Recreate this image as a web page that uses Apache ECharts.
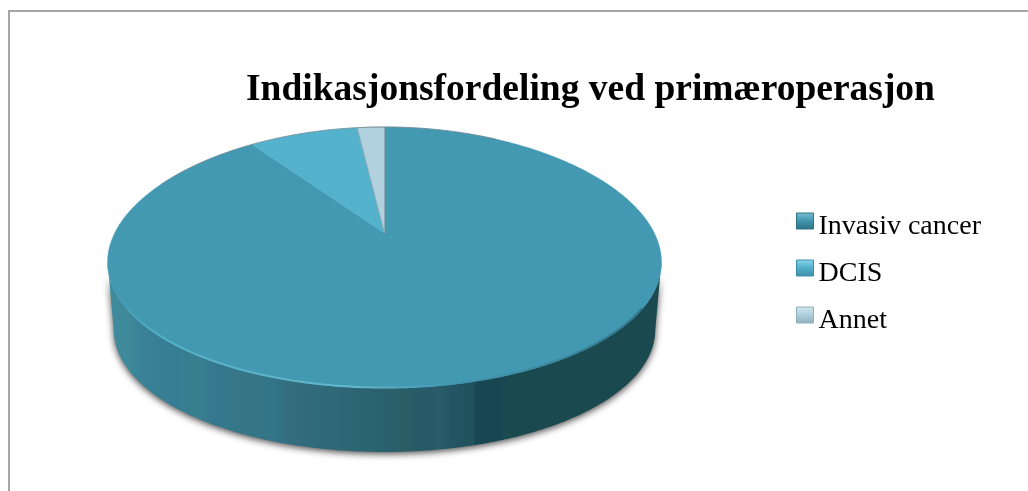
<!DOCTYPE html>
<html>
<head>
<meta charset="utf-8">
<style>html,body{margin:0;padding:0;background:#fff}#chart{width:1028px;height:491px}</style>
<script src="https://cdn.jsdelivr.net/npm/echarts@6/dist/echarts.min.js"></script>
</head>
<body>
<div id="chart"></div>
<script>
const chartTitle = 'Indikasjonsfordeling ved primæroperasjon';
const categories = ['Invasiv cancer', 'DCIS', 'Annet'];
const values = [90.5, 7.6, 1.9];
const sliceColors = ['#4398b2', '#54b2cc', '#b1d1df'];
const legendTops = ['#7fc0d2', '#8ad8ee', '#d5e8ef'];
const legendBottoms = ['#2f7288', '#3f8ea8', '#8fb0be'];

// Tilted-disc projection: a unit circle is taken through a perspective map
// so that the pie's hub sits above the middle of the visible ellipse.
// `sag` lets the flanks of the disc hang slightly lower, as a rendered bevel does.
const hub = { x: 384.5, y: 233 };
const persp = -0.1877, scaleY = 125.9, scaleX = 272, sag = 5;
const depth = 67.4, baseScale = 0.978;

function project(theta, scale, dropY) {
  const u = Math.sin(theta), v = -Math.cos(theta);
  const w = 1 + persp * v;
  return [
    hub.x + scale * scaleX * u / w,
    hub.y + dropY + scale * scaleY * v / w + sag * u * u
  ];
}
function arc(a0, a1, scale, dropY) {
  const n = Math.max(2, Math.ceil(Math.abs(a1 - a0) / 0.01));
  const pts = [];
  for (let i = 0; i <= n; i++) pts.push(project(a0 + (a1 - a0) * i / n, scale, dropY));
  return pts;
}

const total = values.reduce((a, b) => a + b, 0);
const edgeAngle = Math.acos(persp);   // where the ellipse is at its widest

// Banded shading of the rim, from the lit left side to the dark right side.
const rimStops = [
  [0.00, '#3f8c9c'], [0.04, '#3d8899'], [0.07, '#388096'], [0.13, '#367d94'],
  [0.16, '#3a7f8f'], [0.19, '#35798f'], [0.26, '#367585'], [0.30, '#327489'],
  [0.34, '#356b7c'], [0.38, '#2f6a7a'], [0.44, '#2e6573'], [0.50, '#2a616e'],
  [0.53, '#2a5f68'], [0.57, '#265a67'], [0.60, '#295d69'], [0.62, '#235564'],
  [0.66, '#20515d'], [0.665, '#184653'], [0.71, '#184653'], [0.715, '#1a4950'],
  [1.00, '#1a4a50']
];

function renderRim() {
  const top = arc(edgeAngle, 2 * Math.PI - edgeAngle, 1, 0);
  const base = arc(2 * Math.PI - edgeAngle, edgeAngle, baseScale, depth);
  return {
    type: 'polygon',
    shape: { points: top.concat(base) },
    style: {
      fill: new echarts.graphic.LinearGradient(0, 0, 1, 0,
        rimStops.map(s => ({ offset: s[0], color: s[1] }))),
      shadowBlur: 7, shadowColor: 'rgba(0,0,0,0.7)', shadowOffsetY: 2
    }
  };
}

// Lit bevel along the near edge of the top face.
function renderBevel() {
  const margin = edgeAngle * 0.2;
  return {
    type: 'polyline',
    shape: { points: arc(edgeAngle + margin, 2 * Math.PI - edgeAngle - margin, 0.997, 0) },
    style: {
      fill: 'none',
      lineWidth: 2,
      stroke: new echarts.graphic.LinearGradient(0, 0, 1, 0, [
        { offset: 0, color: '#4a9fb6' }, { offset: 0.08, color: '#55b2c6' },
        { offset: 0.45, color: '#62b6ca' }, { offset: 0.62, color: '#4398b2' },
        { offset: 1, color: '#34788e' }
      ])
    }
  };
}

function renderSlice(index) {
  return function (params, api) {
    const before = values.slice(0, index).reduce((a, b) => a + b, 0);
    const a0 = before / total * 2 * Math.PI;
    const a1 = (before + api.value(0)) / total * 2 * Math.PI;
    const isLast = index === values.length - 1;
    const face = {
      type: 'polygon',
      shape: { points: [[hub.x, hub.y]].concat(arc(a0, a1, 1, 0)) },
      style: {
        fill: sliceColors[index],
        stroke: isLast ? '#8fa3ad' : sliceColors[index],
        lineWidth: isLast ? 0.8 : 0.5
      }
    };
    const children = index === 0 ? [renderRim(), face, renderBevel()] : [face];
    if (isLast) {
      // Thin grey outline along the far edge of the disc.
      children.push({
        type: 'polyline',
        shape: { points: arc(-1.1, 0.5, 1, 0) },
        style: { fill: 'none', stroke: 'rgba(120,135,145,0.7)', lineWidth: 1 }
      });
    }
    return { type: 'group', children };
  };
}

const chart = echarts.init(document.getElementById('chart'), null, { renderer: 'canvas' });
chart.setOption({
  animation: false,
  backgroundColor: '#ffffff',
  title: {
    text: chartTitle,
    left: 246,
    top: 71,
    padding: 0,
    textStyle: { fontFamily: 'Liberation Serif', fontWeight: 'bold', fontSize: 37.5, color: '#000' }
  },
  legend: {
    orient: 'vertical',
    left: 796,
    top: 201,
    padding: 0,
    itemWidth: 17,
    itemHeight: 16,
    itemGap: 7,
    formatter: name => `{t|${name}}`,
    data: categories.map((name, i) => ({
      name,
      icon: 'rect',
      itemStyle: {
        color: new echarts.graphic.LinearGradient(0, 0, 0, 1, [
          { offset: 0, color: legendTops[i] },
          { offset: 0.45, color: sliceColors[i] },
          { offset: 1, color: legendBottoms[i] }
        ]),
        borderColor: legendBottoms[i],
        borderWidth: 1
      }
    })),
    textStyle: {
      color: '#000',
      rich: {
        // top padding lowers the label onto the swatch's baseline
        t: { fontFamily: 'Liberation Serif', fontSize: 28, lineHeight: 26, padding: [12, 0, 0, 0], color: '#000' }
      }
    }
  },
  graphic: [{
    type: 'polyline',
    shape: { points: [[9, 491], [9, 11], [1028, 11]] },
    style: { fill: 'none', stroke: '#a6a6a6', lineWidth: 2 },
    silent: true
  }],
  series: categories.map((name, i) => ({
    type: 'custom',
    name,
    coordinateSystem: 'none',
    itemStyle: { color: sliceColors[i] },
    renderItem: renderSlice(i),
    data: [[values[i]]]
  }))
});
</script>
</body>
</html>
